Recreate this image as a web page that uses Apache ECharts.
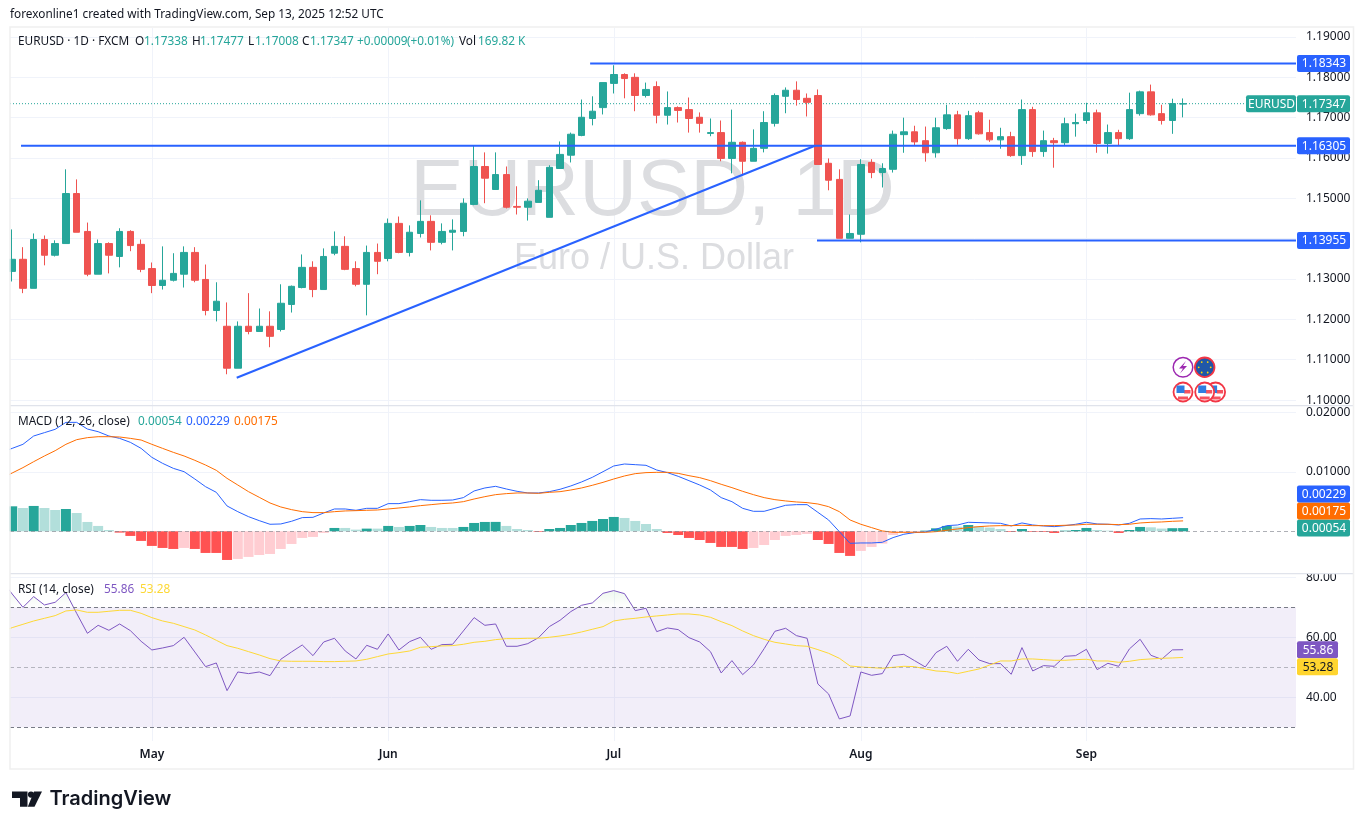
<!DOCTYPE html>
<html>
<head>
<meta charset="utf-8">
<title>EURUSD 1D</title>
<style>
  html, body { margin: 0; padding: 0; background: #fff; }
  #chart { width: 1364px; height: 829px; }
</style>
<script src="https://cdn.jsdelivr.net/npm/echarts@6/dist/echarts.min.js"></script>
</head>
<body>
<div id="chart"></div>
<script>
// candle index is the x value: 0 = 15 Apr-ish, 109 = Sep 12
var opens = [
  1.1319, 1.1349, 1.1277, 1.1398, 1.1359, 1.1388, 1.1512, 1.1418, 1.1312, 1.1388,
  1.1356, 1.1418, 1.1386, 1.1326, 1.1284, 1.1297, 1.1312, 1.1366, 1.1299, 1.1222,
  1.1183, 1.1079, 1.1183, 1.1170, 1.1183, 1.1175, 1.1237, 1.1279, 1.1329, 1.1274,
  1.1364, 1.1381, 1.1326, 1.1287, 1.1366, 1.1351, 1.1438, 1.1366, 1.1413, 1.1443,
  1.1391, 1.1416, 1.1418, 1.1485, 1.1579, 1.1522, 1.1559, 1.1480, 1.1478, 1.1490,
  1.1453, 1.1574, 1.1607, 1.1656, 1.1698, 1.1725, 1.1785, 1.1807, 1.1800, 1.1755,
  1.1777, 1.1706, 1.1725, 1.1720, 1.1701, 1.1661, 1.1663, 1.1599, 1.1639, 1.1592,
  1.1624, 1.1686, 1.1753, 1.1768, 1.1748, 1.1755, 1.1587, 1.1547, 1.1401, 1.1411,
  1.1589, 1.1564, 1.1572, 1.1658, 1.1665, 1.1643, 1.1613, 1.1673, 1.1707, 1.1648,
  1.1712, 1.1663, 1.1645, 1.1653, 1.1606, 1.1720, 1.1616, 1.1643, 1.1638, 1.1685,
  1.1693, 1.1712, 1.1636, 1.1663, 1.1648, 1.1710, 1.1764, 1.1710, 1.1693, 1.17338
];
var closes = [
  1.1349, 1.1277, 1.1398, 1.1359, 1.1388, 1.1512, 1.1416, 1.1312, 1.1388, 1.1359,
  1.1418, 1.1383, 1.1324, 1.1284, 1.1297, 1.1314, 1.1366, 1.1297, 1.1222, 1.1245,
  1.1079, 1.1183, 1.1170, 1.1183, 1.1158, 1.1240, 1.1282, 1.1329, 1.1274, 1.1356,
  1.1381, 1.1324, 1.1287, 1.1366, 1.1344, 1.1438, 1.1366, 1.1416, 1.1443, 1.1391,
  1.1418, 1.1421, 1.1488, 1.1579, 1.1550, 1.1559, 1.1478, 1.1478, 1.1493, 1.1520,
  1.1577, 1.1609, 1.1659, 1.1701, 1.1716, 1.1787, 1.1807, 1.1797, 1.1755, 1.1770,
  1.1706, 1.1725, 1.1718, 1.1698, 1.1686, 1.1663, 1.1599, 1.1639, 1.1592, 1.1624,
  1.1688, 1.1755, 1.1768, 1.1745, 1.1738, 1.1584, 1.1545, 1.1401, 1.1413, 1.1584,
  1.1564, 1.1574, 1.1659, 1.1665, 1.1640, 1.1613, 1.1675, 1.1707, 1.1648, 1.1705,
  1.1660, 1.1645, 1.1653, 1.1606, 1.1720, 1.1616, 1.1643, 1.1638, 1.1685, 1.1688,
  1.1712, 1.1636, 1.1663, 1.1648, 1.1720, 1.1764, 1.1707, 1.1693, 1.1735, 1.17347
];
var highs = [
  1.1423, 1.1379, 1.1413, 1.1408, 1.1396, 1.1572, 1.1547, 1.1440, 1.1398, 1.1391,
  1.1426, 1.1421, 1.1398, 1.1341, 1.1381, 1.1364, 1.1381, 1.1379, 1.1336, 1.1292,
  1.1242, 1.1195, 1.1265, 1.1227, 1.1220, 1.1287, 1.1284, 1.1361, 1.1344, 1.1376,
  1.1418, 1.1406, 1.1344, 1.1383, 1.1388, 1.1450, 1.1455, 1.1433, 1.1495, 1.1458,
  1.1438, 1.1448, 1.1500, 1.1631, 1.1614, 1.1614, 1.1579, 1.1530, 1.1500, 1.1545,
  1.1582, 1.1641, 1.1663, 1.1745, 1.1753, 1.1787, 1.1830, 1.1810, 1.1810, 1.1787,
  1.1790, 1.1765, 1.1728, 1.1750, 1.1713, 1.1698, 1.1693, 1.1720, 1.1641, 1.1671,
  1.1716, 1.1760, 1.1775, 1.1790, 1.1760, 1.1770, 1.1599, 1.1572, 1.1460, 1.1597,
  1.1597, 1.1587, 1.1668, 1.1700, 1.1680, 1.1678, 1.1700, 1.1732, 1.1717, 1.1717,
  1.1717, 1.1695, 1.1675, 1.1665, 1.1745, 1.1727, 1.1668, 1.1650, 1.1700, 1.1710,
  1.1737, 1.1720, 1.1683, 1.1670, 1.1762, 1.1767, 1.1782, 1.1732, 1.1747, 1.17477
];
var lows = [
  1.1294, 1.1265, 1.1277, 1.1334, 1.1356, 1.1388, 1.1416, 1.1307, 1.1312, 1.1314,
  1.1329, 1.1369, 1.1317, 1.1265, 1.1274, 1.1294, 1.1279, 1.1292, 1.1210, 1.1195,
  1.1064, 1.1079, 1.1163, 1.1170, 1.1131, 1.1170, 1.1217, 1.1277, 1.1255, 1.1274,
  1.1359, 1.1322, 1.1282, 1.1210, 1.1312, 1.1344, 1.1364, 1.1356, 1.1403, 1.1371,
  1.1386, 1.1371, 1.1406, 1.1483, 1.1488, 1.1522, 1.1475, 1.1460, 1.1445, 1.1490,
  1.1453, 1.1574, 1.1589, 1.1654, 1.1681, 1.1708, 1.1760, 1.1748, 1.1716, 1.1750,
  1.1686, 1.1683, 1.1688, 1.1663, 1.1663, 1.1654, 1.1592, 1.1562, 1.1557, 1.1592,
  1.1614, 1.1678, 1.1711, 1.1730, 1.1703, 1.1584, 1.1520, 1.1401, 1.1401, 1.1391,
  1.1550, 1.1527, 1.1564, 1.1613, 1.1631, 1.1591, 1.1601, 1.1670, 1.1633, 1.1645,
  1.1658, 1.1640, 1.1623, 1.1603, 1.1583, 1.1603, 1.1603, 1.1576, 1.1631, 1.1653,
  1.1685, 1.1613, 1.1611, 1.1631, 1.1645, 1.1705, 1.1705, 1.1683, 1.1660, 1.17008
];
var macdLine = [
  0.01394, 0.01462, 0.01602, 0.01658, 0.01714, 0.01831, 0.01831, 0.01719, 0.01674, 0.01602,
  0.01562, 0.01495, 0.01394, 0.01243, 0.01142, 0.01058, 0.01002, 0.00879, 0.00750, 0.00655,
  0.00426, 0.00330, 0.00246, 0.00179, 0.00118, 0.00123, 0.00168, 0.00230, 0.00235, 0.00308,
  0.00375, 0.00375, 0.00353, 0.00386, 0.00386, 0.00465, 0.00465, 0.00498, 0.00532, 0.00521,
  0.00521, 0.00526, 0.00566, 0.00678, 0.00728, 0.00756, 0.00711, 0.00672, 0.00644, 0.00644,
  0.00666, 0.00706, 0.00762, 0.00829, 0.00907, 0.01002, 0.01098, 0.01131, 0.01120, 0.01109,
  0.01030, 0.00986, 0.00924, 0.00851, 0.00778, 0.00694, 0.00566, 0.00498, 0.00386, 0.00336,
  0.00336, 0.00386, 0.00437, 0.00448, 0.00448, 0.00319, 0.00190, -0.00006, -0.00202, -0.00196,
  -0.00196, -0.00185, -0.00106, -0.00050, -0.00022, -0.00011, 0.00034, 0.00095, 0.00106, 0.00151,
  0.00146, 0.00140, 0.00134, 0.00090, 0.00140, 0.00106, 0.00090, 0.00078, 0.00095, 0.00118,
  0.00151, 0.00123, 0.00118, 0.00106, 0.00134, 0.00207, 0.00213, 0.00207, 0.00218, 0.00229
];
var signalLine = [
  0.00980, 0.01070, 0.01170, 0.01266, 0.01355, 0.01462, 0.01540, 0.01574, 0.01590, 0.01590,
  0.01585, 0.01562, 0.01534, 0.01462, 0.01394, 0.01327, 0.01266, 0.01193, 0.01114, 0.01025,
  0.00890, 0.00778, 0.00666, 0.00571, 0.00476, 0.00409, 0.00364, 0.00330, 0.00314, 0.00314,
  0.00330, 0.00342, 0.00347, 0.00353, 0.00358, 0.00375, 0.00392, 0.00409, 0.00431, 0.00448,
  0.00465, 0.00476, 0.00498, 0.00543, 0.00582, 0.00616, 0.00633, 0.00644, 0.00644, 0.00638,
  0.00655, 0.00666, 0.00694, 0.00728, 0.00773, 0.00823, 0.00879, 0.00930, 0.00969, 0.00986,
  0.00991, 0.00991, 0.00974, 0.00935, 0.00902, 0.00851, 0.00790, 0.00734, 0.00672, 0.00616,
  0.00566, 0.00532, 0.00510, 0.00493, 0.00482, 0.00459, 0.00414, 0.00330, 0.00190, 0.00118,
  0.00062, 0.00006, -0.00017, -0.00017, -0.00017, -0.00017, -0.00006, 0.00017, 0.00039, 0.00062,
  0.00078, 0.00090, 0.00095, 0.00095, 0.00101, 0.00095, 0.00095, 0.00095, 0.00101, 0.00106,
  0.00118, 0.00118, 0.00118, 0.00112, 0.00118, 0.00140, 0.00151, 0.00157, 0.00168, 0.00175
];
var macdHist = [
  0.00420, 0.00392, 0.00426, 0.00392, 0.00358, 0.00375, 0.00308, 0.00157, 0.00090, 0.00022,
  -0.00022, -0.00078, -0.00162, -0.00246, -0.00280, -0.00297, -0.00280, -0.00297, -0.00364, -0.00364,
  -0.00482, -0.00465, -0.00431, -0.00398, -0.00381, -0.00297, -0.00213, -0.00112, -0.00095, -0.00028,
  0.00056, 0.00056, 0.00028, 0.00045, 0.00045, 0.00090, 0.00073, 0.00090, 0.00106, 0.00073,
  0.00056, 0.00056, 0.00073, 0.00140, 0.00157, 0.00158, 0.00090, 0.00039, 0.00022, -0.00011,
  0.00039, 0.00056, 0.00106, 0.00140, 0.00174, 0.00207, 0.00241, 0.00224, 0.00174, 0.00123,
  0.00039, -0.00028, -0.00062, -0.00112, -0.00146, -0.00196, -0.00263, -0.00263, -0.00297, -0.00280,
  -0.00230, -0.00146, -0.00078, -0.00062, -0.00045, -0.00146, -0.00213, -0.00364, -0.00414, -0.00330,
  -0.00263, -0.00207, -0.00062, -0.00028, -0.00017, 0.00011, 0.00050, 0.00090, 0.00078, 0.00106,
  0.00084, 0.00062, 0.00039, -0.00011, 0.00039, -0.00011, -0.00012, -0.00028, 0.00011, 0.00022,
  0.00056, 0.00022, 0.00011, -0.00028, 0.00022, 0.00073, 0.00067, 0.00046, 0.00052, 0.00054
];
var rsiLine = [
  74.44, 70.00, 73.56, 70.78, 71.67, 74.89, 68.00, 61.33, 64.00, 62.33,
  64.44, 62.22, 58.67, 55.78, 56.44, 57.22, 60.00, 55.11, 50.22, 51.44,
  42.22, 48.44, 47.89, 48.44, 47.22, 52.67, 55.11, 57.44, 53.89, 58.44,
  59.67, 55.44, 52.78, 57.33, 56.00, 61.11, 55.78, 58.56, 60.00, 56.00,
  57.56, 57.67, 62.11, 66.56, 64.00, 64.44, 57.00, 57.00, 57.89, 59.89,
  63.56, 65.67, 68.56, 70.67, 71.44, 74.67, 75.56, 74.56, 68.89, 69.67,
  61.89, 63.11, 62.56, 59.89, 58.44, 55.22, 48.11, 52.22, 47.56, 50.78,
  56.22, 62.00, 63.00, 60.56, 59.67, 44.44, 41.11, 32.78, 33.78, 48.44,
  47.33, 47.89, 53.89, 54.33, 52.22, 50.11, 54.89, 57.00, 52.00, 56.00,
  52.44, 51.22, 51.22, 47.67, 56.56, 48.78, 50.56, 50.33, 53.67, 53.89,
  56.00, 49.22, 51.33, 50.33, 56.11, 59.33, 54.00, 52.67, 55.80, 55.86
];
var rsiMa = [
  63.22, 64.33, 65.44, 66.33, 67.22, 68.78, 69.11, 68.33, 68.33, 68.67,
  69.00, 69.00, 68.00, 66.56, 65.44, 64.67, 63.56, 62.44, 60.78, 59.00,
  57.22, 56.33, 55.22, 54.11, 52.89, 52.11, 52.00, 52.00, 52.00, 51.89,
  51.89, 52.00, 52.11, 52.67, 53.56, 54.44, 54.89, 55.44, 56.67, 56.89,
  57.11, 57.22, 57.67, 58.33, 58.67, 59.22, 59.56, 59.56, 59.67, 59.67,
  60.00, 60.44, 61.00, 61.78, 62.67, 63.56, 65.44, 66.00, 66.33, 66.78,
  67.11, 67.44, 67.78, 67.78, 67.44, 66.67, 65.22, 63.89, 62.11, 60.56,
  59.33, 58.33, 57.78, 57.22, 57.00, 55.89, 54.67, 53.00, 50.44, 50.11,
  49.89, 49.67, 50.00, 50.33, 50.22, 49.44, 48.78, 48.56, 47.89, 48.67,
  49.44, 50.78, 52.11, 52.11, 52.78, 52.78, 52.56, 52.33, 52.33, 52.56,
  52.67, 52.11, 52.11, 51.67, 52.00, 52.56, 52.78, 53.00, 53.11, 53.28
];
// values one candle before the window, the lines come in from off screen
var leadMacd = 0.01327, leadSignal = 0.00890, leadRsi = 79.1, leadRsiMa = 61.8;
var monthTicks = [13, 35, 56, 79, 100];
var monthLabels = ['May', 'Jun', 'Jul', 'Aug', 'Sep'];
var priceTicks = [1.10, 1.11, 1.12, 1.13, 1.14, 1.15, 1.16, 1.17, 1.18, 1.19];
var macdTicks = [0.01, 0.02];
var rsiTicks = [40, 60, 80];
// hand drawn levels and trend line, x in candle index
var levelPrices = [1.18343, 1.16305, 1.13955];
var levelStarts = [53.8, 0.82, 74.92];
var trendX = [20.9, 74.73];
var trendY = [1.10554, 1.16305];
var lastPrice = 1.17347;

var GREEN = '#26a69a', RED = '#ef5350', BLUE = '#2962ff', ORANGE = '#ff6d00';
var PURPLE = '#7e57c2', YELLOW = '#fdd835', GRID = '#f0f3fa', TEXT = '#131722';
var FONT = '"Noto Sans", sans-serif';
var X_MIN = -0.205, X_MAX = 119.51;

function indexed(values, lead) {
  var points = values.map(function (v, i) { return [i, v]; });
  if (lead !== undefined) points.unshift([-1, lead]);
  return points;
}

function histColor(i) {
  var h = macdHist[i], rising = i > 0 && h > macdHist[i - 1];
  if (h >= 0) return (rising || i === 0) ? '#26a69a' : '#b2dfdb';
  return rising ? '#ffcdd2' : '#ff5252';
}

function xAxis(gridIndex, showLabels) {
  return {
    type: 'value', gridIndex: gridIndex, min: X_MIN, max: X_MAX,
    axisLine: { show: false },
    axisTick: { show: false, customValues: monthTicks },
    splitLine: { show: true, lineStyle: { color: GRID, width: 1 } },
    axisLabel: {
      show: showLabels, customValues: monthTicks, margin: 8,
      color: TEXT, fontFamily: FONT, fontSize: 12, fontWeight: 600,
      formatter: function (v) { return monthLabels[monthTicks.indexOf(v)]; }
    }
  };
}

function yAxis(gridIndex, min, max, ticks, digits) {
  return {
    type: 'value', gridIndex: gridIndex, position: 'right', min: min, max: max,
    axisLine: { show: false },
    axisTick: { show: false, customValues: ticks },
    splitLine: { show: true, lineStyle: { color: GRID, width: 1 } },
    axisLabel: {
      customValues: ticks, margin: 10, color: TEXT, fontFamily: FONT, fontSize: 12,
      formatter: function (v) { return v.toFixed(digits); }
    }
  };
}

function thinLine(name, axis, values, lead, color) {
  return {
    name: name, type: 'line', xAxisIndex: axis, yAxisIndex: axis, data: indexed(values, lead),
    symbol: 'none', lineStyle: { color: color, width: 1 }, z: 4
  };
}

function guide(value, style) {
  return { yAxis: value, lineStyle: style };
}

var series = [
  {
    name: 'EURUSD', type: 'candlestick', xAxisIndex: 0, yAxisIndex: 0, barWidth: 7, z: 3,
    encode: { x: 0, y: [1, 2, 3, 4] },
    data: opens.map(function (o, i) { return [i, o, closes[i], lows[i], highs[i]]; }),
    itemStyle: { color: GREEN, color0: RED, borderColor: GREEN, borderColor0: RED, borderWidth: 1 }
  },
  {
    name: 'Last', type: 'line', xAxisIndex: 0, yAxisIndex: 0, symbol: 'none', z: 2,
    data: [[X_MIN, lastPrice], [X_MAX, lastPrice]],
    lineStyle: { color: GREEN, type: [1, 2], width: 1 }
  }
];

levelPrices.forEach(function (price, i) {
  series.push({
    type: 'line', xAxisIndex: 0, yAxisIndex: 0, symbol: 'none', z: 5,
    data: [[levelStarts[i], price], [X_MAX, price]],
    lineStyle: { color: BLUE, width: 2 }
  });
});
series.push({
  type: 'line', xAxisIndex: 0, yAxisIndex: 0, symbol: 'none', z: 5,
  data: [[trendX[0], trendY[0]], [trendX[1], trendY[1]]],
  lineStyle: { color: BLUE, width: 2 }
});

series.push({
  name: 'Histogram', type: 'bar', xAxisIndex: 1, yAxisIndex: 1, barWidth: 10, z: 2,
  data: macdHist.map(function (h, i) {
    return { value: [i, h], itemStyle: { color: histColor(i) } };
  }),
  markLine: {
    silent: true, symbol: 'none', animation: false, label: { show: false },
    data: [guide(0, { color: '#787b86', type: [4, 3], width: 1, opacity: 0.6 })]
  }
});
series.push(thinLine('MACD', 1, macdLine, leadMacd, BLUE));
series.push(thinLine('Signal', 1, signalLine, leadSignal, ORANGE));

// green fill where RSI pokes above 70
series.push({
  type: 'line', xAxisIndex: 2, yAxisIndex: 2, symbol: 'none', z: 2,
  data: indexed(rsiLine.map(function (v) { return Math.max(v, 70); }), leadRsi),
  lineStyle: { width: 0 },
  areaStyle: {
    origin: 70,
    color: {
      type: 'linear', x: 0, y: 0, x2: 0, y2: 1,
      colorStops: [
        { offset: 0, color: 'rgba(76,175,80,.22)' },
        { offset: 1, color: 'rgba(76,175,80,0)' }
      ]
    }
  }
});
series.push({
  name: 'RSI', type: 'line', xAxisIndex: 2, yAxisIndex: 2, data: indexed(rsiLine, leadRsi),
  symbol: 'none', lineStyle: { color: PURPLE, width: 1 }, z: 4,
  markArea: {
    silent: true, animation: false, itemStyle: { color: 'rgba(126,87,194,.1)' },
    data: [[{ yAxis: 70 }, { yAxis: 30 }]]
  },
  markLine: {
    silent: true, symbol: 'none', animation: false, label: { show: false },
    data: [
      guide(70, { color: '#787b86', type: [4, 3], width: 1 }),
      guide(50, { color: 'rgba(120,123,134,.5)', type: [4, 3], width: 1 }),
      guide(30, { color: '#787b86', type: [4, 3], width: 1 })
    ]
  }
});
series.push(thinLine('RSI MA', 2, rsiMa, leadRsiMa, YELLOW));

var chart = echarts.init(document.getElementById('chart'), null, { renderer: 'canvas' });
chart.setOption({
  animation: false,
  backgroundColor: '#fff',
  grid: [
    { left: 10, width: 1286, top: 28, height: 377 },
    { left: 10, width: 1286, top: 406, height: 167 },
    { left: 10, width: 1286, top: 574, height: 167 }
  ],
  xAxis: [xAxis(0, false), xAxis(1, false), xAxis(2, true)],
  yAxis: [
    yAxis(0, 1.09878, 1.19223, priceTicks, 5),
    yAxis(1, -0.00701, 0.02106, macdTicks, 5),
    yAxis(2, 25.43, 81.1, rsiTicks, 2)
  ],
  series: series
});

// ---- text, tags and furniture
function text(x, y, str, color, font) {
  return {
    type: 'text', silent: true, z: 60,
    style: { x: x, y: y, text: str, fill: color || TEXT, font: font || ('11.8px ' + FONT), verticalAlign: 'middle' }
  };
}

function tag(y, str, bg, fg, x, w) {
  var left = x === undefined ? 1297 : x;
  var width = w === undefined ? 53 : w;
  return [
    { type: 'rect', silent: true, z: 70, shape: { x: left, y: y - 8.5, width: width, height: 17, r: 2 }, style: { fill: bg } },
    { type: 'text', silent: true, z: 71, style: { x: left + width / 2 + 0.5, y: y + 0.5, text: str, fill: fg, font: '12px ' + FONT, align: 'center', verticalAlign: 'middle' } }
  ];
}

function circle(cx, cy, r, fill, stroke, lw, z) {
  return { type: 'circle', silent: true, z: z, shape: { cx: cx, cy: cy, r: r }, style: { fill: fill, stroke: stroke, lineWidth: lw || 0 } };
}

function rect(x, y, w, h, fill, z) {
  return { type: 'rect', silent: true, z: z, shape: { x: x, y: y, width: w, height: h }, style: { fill: fill } };
}

function usFlag(cx, cy, z) {
  return [
    circle(cx, cy, 9.5, '#fff', '#f23645', 1.8, z),
    rect(cx + 1, cy - 2, 6.5, 3.5, '#f7525f', z + 1),
    rect(cx - 5, cy + 4.5, 10, 3, '#f7525f', z + 1),
    rect(cx - 6.5, cy - 6.5, 8, 7.5, '#2f7de1', z + 1)
  ];
}

function yPx(axis, value) {
  return chart.convertToPixel({ yAxisIndex: axis }, value);
}

var gfx = [
  // first bar and candle stick out past the pane edge, the frame cuts them
  rect(0, 28, 9.6, 714, '#fff', 54),
  { type: 'rect', silent: true, z: 56, shape: { x: 10, y: 27, width: 1343.5, height: 742 }, style: { fill: 'none', stroke: '#f0f0f0', lineWidth: 1.5 } },
  rect(10, 405, 1344, 1.2, '#e0e3eb', 55),
  rect(10, 573, 1344, 1.2, '#e0e3eb', 55),
  // 80.00 label runs into the pane edge
  rect(1297, 564, 55, 9, '#fff', 54),
  // watermark sits under the candles
  { type: 'text', silent: true, z: 1, style: { x: 652.5, y: 193, text: 'EURUSD, 1D', fill: '#dcdde0', font: '80px "Liberation Sans"', align: 'center', verticalAlign: 'middle' } },
  { type: 'text', silent: true, z: 1, style: { x: 654, y: 259, text: 'Euro / U.S. Dollar', fill: '#dcdde0', font: '36px "Liberation Sans"', align: 'center', verticalAlign: 'middle' } },
  text(10, 15, 'forexonline1 created with TradingView.com, Sep 13, 2025 12:52 UTC'),
  text(18, 42, 'EURUSD \u00b7 1D \u00b7 FXCM'),
  text(135, 42, 'O'), text(144, 42, '1.17338', GREEN),
  text(192, 42, 'H'), text(200, 42, '1.17477', GREEN),
  text(248, 42, 'L'), text(255, 42, '1.17008', GREEN),
  text(302, 42, 'C'), text(310, 42, '1.17347', GREEN),
  text(357, 42, '+0.00009', GREEN), text(407, 42, '(+0.01%)', GREEN),
  text(459, 42, 'Vol'), text(478, 42, '169.82 K', GREEN),
  text(18, 421.5, 'MACD (12, 26, close)'),
  text(138, 421.5, '0.00054', GREEN), text(186, 421.5, '0.00229', BLUE), text(234, 421.5, '0.00175', ORANGE),
  text(18, 589.5, 'RSI (14, close)'),
  text(104, 589.5, '55.86', PURPLE), text(140, 589.5, '53.28', YELLOW),
  // logo
  text(49.5, 799, 'TradingView', TEXT, '600 20px Inter, sans-serif'),
  { type: 'polygon', silent: true, z: 60, shape: { points: [[12, 791.5], [27.5, 791.5], [27.5, 806.7], [20, 806.7], [20, 798], [12, 798]] }, style: { fill: TEXT } },
  circle(31, 794.6, 3.1, TEXT, null, 0, 60),
  { type: 'polygon', silent: true, z: 60, shape: { points: [[34, 791.5], [42, 791.5], [34.5, 806.7], [27.8, 806.7]] }, style: { fill: TEXT } },
  // event markers
  circle(1183, 367.3, 9.8, '#fff', '#9c27b0', 1.5, 40),
  { type: 'polygon', silent: true, z: 41, shape: { points: [[1186, 361], [1179, 368.5], [1183, 368.5], [1180, 373.5], [1187, 366], [1183, 366]] }, style: { fill: '#9c27b0' } },
  circle(1204.7, 367.3, 9.8, '#1f57a8', '#f23645', 1.8, 40)
];
[-6, 6].forEach(function (dx) {
  gfx.push(circle(1204.7 + dx, 367.3, 0.9, '#ffd600', null, 0, 41));
  gfx.push(circle(1204.7 + dx * 0.5, 367.3 - 5.2, 0.9, '#ffd600', null, 0, 41));
  gfx.push(circle(1204.7 + dx * 0.5, 367.3 + 5.2, 0.9, '#ffd600', null, 0, 41));
});
gfx = gfx.concat(usFlag(1215.6, 392, 40), usFlag(1204.7, 392, 43), usFlag(1183, 392, 46));

// value tags: main pane follows the axis, stacked ones are pushed apart as on the original
levelPrices.forEach(function (price) {
  gfx = gfx.concat(tag(yPx(0, price), price.toFixed(5), BLUE, '#fff'));
});
gfx = gfx.concat(tag(yPx(0, lastPrice), lastPrice.toFixed(5), GREEN, '#fff'));
gfx = gfx.concat(tag(yPx(0, lastPrice), 'EURUSD', GREEN, '#fff', 1246, 50));
var zeroTagY = yPx(1, macdHist[109]);
gfx = gfx.concat(
  tag(zeroTagY, '0.00054', GREEN, '#fff'),
  tag(zeroTagY - 17, '0.00175', ORANGE, '#fff'),
  tag(zeroTagY - 34, '0.00229', BLUE, '#fff')
);
var rsiTagY = yPx(2, rsiLine[109]);
gfx = gfx.concat(
  tag(rsiTagY, '55.86', PURPLE, '#fff', 1297, 41),
  tag(rsiTagY + 17, '53.28', '#ffd52f', TEXT, 1297, 41)
);

chart.setOption({ graphic: { elements: gfx } });
</script>
</body>
</html>
